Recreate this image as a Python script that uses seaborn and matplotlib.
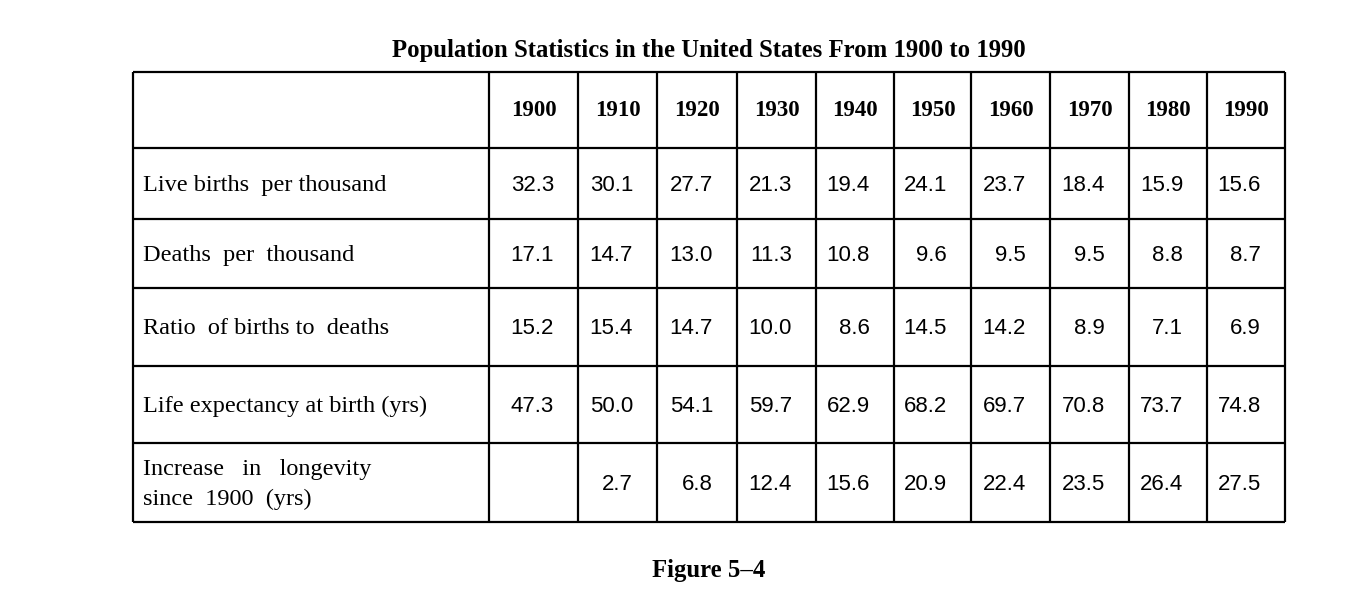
import matplotlib.pyplot as plt
import seaborn as sns

# table contents
years = ["1900", "1910", "1920", "1930", "1940", "1950", "1960", "1970", "1980", "1990"]
row_labels = [
    "Live births  per thousand",
    "Deaths  per  thousand",
    "Ratio  of births to  deaths",
    "Life expectancy at birth (yrs)",
    "Increase   in   longevity\nsince  1900  (yrs)",
]
live_births = [32.3, 30.1, 27.7, 21.3, 19.4, 24.1, 23.7, 18.4, 15.9, 15.6]
deaths = [17.1, 14.7, 13.0, 11.3, 10.8, 9.6, 9.5, 9.5, 8.8, 8.7]
ratio = [15.2, 15.4, 14.7, 10.0, 8.6, 14.5, 14.2, 8.9, 7.1, 6.9]
life_exp = [47.3, 50.0, 54.1, 59.7, 62.9, 68.2, 69.7, 70.8, 73.7, 74.8]
longevity = [None, 2.7, 6.8, 12.4, 15.6, 20.9, 22.4, 23.5, 26.4, 27.5]

title = "Population Statistics in the United States From 1900 to 1990"
caption = "Figure 5\u20134"

sns.set_theme(style="white")
plt.rcParams["font.family"] = ["Liberation Serif", "DejaVu Serif"]
plt.rcParams["text.color"] = "black"

# grid layout in pixels
col_edges = [133, 489, 578, 657, 737, 816, 894, 971, 1050, 1129, 1207, 1285]
row_edges = [72, 148, 219, 288, 366, 443, 522]

fig = plt.figure(figsize=(13.56, 6.12), dpi=100)
ax = fig.add_axes([0, 0, 1, 1])
ax.set_xlim(0, 1356)
ax.set_ylim(612, 0)
ax.axis("off")

lw = 1.6
ax.vlines(col_edges, row_edges[0], row_edges[-1], color="black", lw=lw)
ax.hlines(row_edges, col_edges[0], col_edges[-1], color="black", lw=lw)

mid = (col_edges[0] + col_edges[-1]) / 2
ax.text(mid, 51, title, ha="center", va="center", fontsize=17.8, fontweight="bold")
ax.text(mid, 571, caption, ha="center", va="center", fontsize=17.8, fontweight="bold")

hy = (row_edges[0] + row_edges[1]) / 2
for j, yr in enumerate(years):
    cx = (col_edges[j + 1] + col_edges[j + 2]) / 2
    ax.text(cx, hy + 1, yr, ha="center", va="center", fontsize=16.5, fontweight="bold")

rows = [live_births, deaths, ratio, life_exp, longevity]
for i, (lab, vals) in enumerate(zip(row_labels, rows)):
    cy = (row_edges[i + 1] + row_edges[i + 2]) / 2 + 2
    ax.text(col_edges[0] + 10, cy, lab, ha="left", va="center", fontsize=17.5,
            linespacing=1.55)
    for j, v in enumerate(vals):
        if v is None:
            continue
        ax.text(col_edges[j + 2] - 24, cy, f"{v:.1f}", ha="right", va="center",
                fontsize=16, family=["Liberation Sans", "DejaVu Sans"])

plt.savefig("out.png", dpi=100)
